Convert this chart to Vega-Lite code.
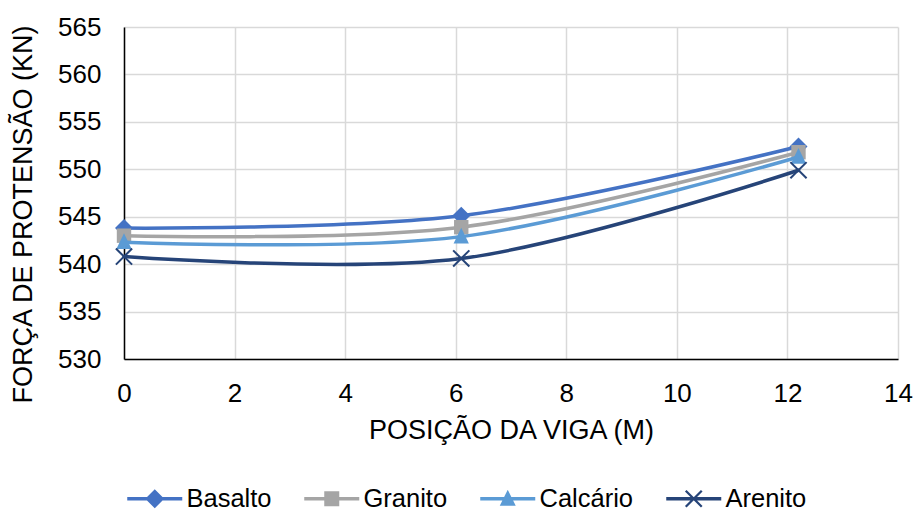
{
  "$schema": "https://vega.github.io/schema/vega-lite/v6.json",
  "width": 774,
  "height": 332,
  "autosize": {"type": "none"},
  "padding": {"left": 124, "top": 27, "right": 16, "bottom": 152},
  "background": "white",
  "config": {
    "view": {"stroke": null},
    "font": "Liberation Sans",
    "axis": {
      "labelFont": "Liberation Sans",
      "titleFont": "Liberation Sans",
      "labelFontSize": 26,
      "titleFontSize": 27,
      "titleFontWeight": "normal",
      "labelColor": "#000000",
      "titleColor": "#000000",
      "ticks": false,
      "tickSize": 0,
      "gridColor": "#D9D9D9",
      "gridWidth": 1.5,
      "domainColor": "#000000",
      "domainWidth": 1.5
    }
  },
  "data": {
    "values": [
      {"serie": "Basalto", "posicao": 0, "forca": 543.8},
      {"serie": "Basalto", "posicao": 6.1, "forca": 545.1},
      {"serie": "Basalto", "posicao": 12.2, "forca": 552.4},
      {"serie": "Granito", "posicao": 0, "forca": 543.0},
      {"serie": "Granito", "posicao": 6.1, "forca": 543.9},
      {"serie": "Granito", "posicao": 12.2, "forca": 551.8},
      {"serie": "Calcário", "posicao": 0, "forca": 542.3},
      {"serie": "Calcário", "posicao": 6.1, "forca": 542.9},
      {"serie": "Calcário", "posicao": 12.2, "forca": 551.3},
      {"serie": "Arenito", "posicao": 0, "forca": 540.8},
      {"serie": "Arenito", "posicao": 6.1, "forca": 540.6},
      {"serie": "Arenito", "posicao": 12.2, "forca": 549.9}
    ]
  },
  "encoding": {
    "x": {
      "field": "posicao",
      "type": "quantitative",
      "scale": {"domain": [0, 14], "nice": false, "zero": false},
      "axis": {
        "values": [0, 2, 4, 6, 8, 10, 12, 14],
        "title": "POSIÇÃO DA VIGA (M)",
        "labelPadding": 21,
        "titlePadding": 11,
        "labelFlush": false,
        "labelOverlap": false
      }
    },
    "y": {
      "field": "forca",
      "type": "quantitative",
      "scale": {"domain": [530, 565], "nice": false, "zero": false},
      "axis": {
        "values": [530, 535, 540, 545, 550, 555, 560, 565],
        "title": "FORÇA DE PROTENSÃO (KN)",
        "titleY": 187,
        "labelPadding": 23,
        "titlePadding": 20,
        "labelFlush": false,
        "labelOverlap": false
      }
    }
  },
  "layer": [
    {
      "transform": [{"filter": "datum.serie === 'Basalto'"}],
      "layer": [
        {"mark": {"type": "line", "interpolate": "cardinal", "strokeWidth": 3.5, "strokeCap": "round", "color": "#4472C4"}},
        {"mark": {"type": "point", "filled": true, "opacity": 1, "size": 324, "strokeWidth": 0, "color": "#4472C4",
                  "shape": "M0,-1L1,0L0,1L-1,0Z"}}
      ]
    },
    {
      "transform": [{"filter": "datum.serie === 'Granito'"}],
      "layer": [
        {"mark": {"type": "line", "interpolate": "cardinal", "strokeWidth": 3.5, "strokeCap": "round", "color": "#A5A5A5"}},
        {"mark": {"type": "point", "filled": true, "opacity": 1, "size": 324, "strokeWidth": 0, "color": "#A5A5A5",
                  "shape": "M-0.8,-0.8L0.8,-0.8L0.8,0.8L-0.8,0.8Z"}}
      ]
    },
    {
      "transform": [{"filter": "datum.serie === 'Calcário'"}],
      "layer": [
        {"mark": {"type": "line", "interpolate": "cardinal", "strokeWidth": 3.5, "strokeCap": "round", "color": "#5B9BD5"}},
        {"mark": {"type": "point", "filled": true, "opacity": 1, "size": 324, "strokeWidth": 0, "color": "#5B9BD5",
                  "shape": "M0,-1L0.85,0.75L-0.85,0.75Z"}}
      ]
    },
    {
      "transform": [{"filter": "datum.serie === 'Arenito'"}],
      "layer": [
        {"mark": {"type": "line", "interpolate": "cardinal", "strokeWidth": 3.5, "strokeCap": "round", "color": "#264478"}},
        {"mark": {"type": "point", "filled": true, "opacity": 1, "size": 324, "strokeWidth": 0, "color": "#264478",
                  "shape": "M-0.82,-0.98L0.98,0.82L0.82,0.98L-0.98,-0.82ZM-0.98,0.82L0.82,-0.98L0.98,-0.82L-0.82,0.98Z"}}
      ]
    },
    {
      "mark": {"type": "point", "filled": true, "opacity": 0},
      "encoding": {
        "color": {
          "field": "serie",
          "type": "nominal",
          "scale": {
            "domain": ["Basalto", "Granito", "Calcário", "Arenito"],
            "range": ["#4472C4", "#A5A5A5", "#5B9BD5", "#264478"]
          },
          "legend": {
            "title": null,
            "orient": "none",
            "direction": "horizontal",
            "gridAlign": "none",
            "legendX": 18,
            "legendY": 459,
            "padding": 0,
            "columnPadding": 32,
            "labelOffset": 19,
            "labelFont": "Liberation Sans",
            "labelFontSize": 25.5,
            "labelColor": "#000000",
            "labelLimit": 300,
            "symbolSize": 400,
            "symbolStrokeWidth": 0,
            "symbolOpacity": 1
          }
        },
        "shape": {
          "field": "serie",
          "type": "nominal",
          "scale": {
            "domain": ["Basalto", "Granito", "Calcário", "Arenito"],
            "range": [
              "M-2.75,-0.17L2.75,-0.17L2.75,0.17L-2.75,0.17ZM0,-0.95L0.95,0L0,0.95L-0.95,0Z",
              "M-2.75,-0.17L2.75,-0.17L2.75,0.17L-2.75,0.17ZM-0.75,-0.75L0.75,-0.75L0.75,0.75L-0.75,0.75Z",
              "M-2.75,-0.17L2.75,-0.17L2.75,0.17L-2.75,0.17ZM0,-0.9L0.8,0.7L-0.8,0.7Z",
              "M-2.75,-0.17L2.75,-0.17L2.75,0.17L-2.75,0.17ZM-0.72,-0.88L0.88,0.72L0.72,0.88L-0.88,-0.72ZM-0.88,0.72L0.72,-0.88L0.88,-0.72L-0.72,0.88Z"
            ]
          },
          "legend": {
            "title": null,
            "orient": "none",
            "direction": "horizontal",
            "gridAlign": "none",
            "legendX": 18,
            "legendY": 459,
            "padding": 0,
            "columnPadding": 32,
            "labelOffset": 19,
            "labelFont": "Liberation Sans",
            "labelFontSize": 25.5,
            "labelColor": "#000000",
            "labelLimit": 300,
            "symbolSize": 400,
            "symbolStrokeWidth": 0,
            "symbolOpacity": 1
          }
        }
      }
    }
  ]
}
